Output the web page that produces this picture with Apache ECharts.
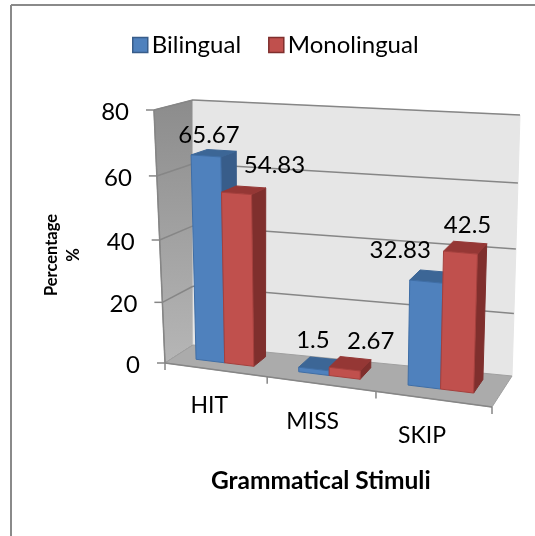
<!DOCTYPE html>
<html>
<head>
<meta charset="utf-8">
<style>
  html, body { margin: 0; padding: 0; background: #fff; }
  #main { width: 535px; height: 536px; }
</style>
<script src="https://cdn.jsdelivr.net/npm/echarts@6/dist/echarts.min.js"></script>
</head>
<body>
<div id="main"></div>
<script>
var categories = ['HIT', 'MISS', 'SKIP'];
var bilingual = [65.67, 1.5, 32.83];
var monolingual = [54.83, 2.67, 42.5];
var yTicks = [0, 20, 40, 60, 80];
var seriesNames = ['Bilingual', 'Monolingual'];

// pixel corners of the 3d box: f = front, b = back, l/r = left/right, d/t = floor/top
var BOX = {
	fld: [165, 363], frd: [492, 407], bld: [193, 345], brd: [512, 376],
	flt: [154, 110], frt: [501, 132], blt: [193, 100], brt: [520, 115]
};
var PLOT = 300;       // size of the hidden grid, only used to normalise api.coord
var BAR_W = 0.095;    // one bar, as a share of the floor width
var BAR_W0 = 0.35, BAR_W1 = 0.8;  // depth range of the bars
var FONT = 'Lato, "Open Sans", sans-serif';

var BLUE = { front: '#4f81bd', top: '#3c6696', side: '#385d8a', edge: '#3f6ea6' };
var RED = { front: '#c0504d', top: '#953735', side: '#7f2f2d', edge: '#a5403d' };

// label shift from the top of the bar front, per series and category
var labelShift = [
	[[3, -21], [-1, -29], [-26, -31]],
	[[38, -28], [26, -28], [7, -27]]
];
// category label shift from the tick position on the front floor edge
var catShift = [[-6, 36], [-8, 38], [-11, 37]];

function lerp(a, b, t) {
	return [a[0] + (b[0] - a[0]) * t, a[1] + (b[1] - a[1]) * t];
}
// foreshortening of the view
function warp(t, r) {
	return t / (t + (1 - t) * r);
}
// u along the categories, v up the value axis, w into the depth, all 0..1
function project(u, v, w) {
	var uu = warp(u, 1.1);
	var vv = warp(v, 1.057);
	var front = lerp(lerp(BOX.fld, BOX.frd, uu), lerp(BOX.flt, BOX.frt, uu), vv);
	var back = lerp(lerp(BOX.bld, BOX.brd, uu), lerp(BOX.blt, BOX.brt, uu), vv);
	return lerp(front, back, w);
}
function face(points, fill, stroke) {
	return {
		type: 'polygon',
		shape: { points: points },
		style: { fill: fill, stroke: stroke || fill, lineWidth: 1 }
	};
}
function line(a, b, color, width) {
	return {
		type: 'line',
		shape: { x1: a[0], y1: a[1], x2: b[0], y2: b[1] },
		style: { stroke: color, lineWidth: width || 1.5 }
	};
}
function label(text, p, size, align) {
	return {
		type: 'text',
		x: p[0], y: p[1],
		style: {
			text: text, fill: '#000', font: size + 'px ' + FONT,
			textAlign: align || 'center', textVerticalAlign: 'middle'
		}
	};
}

// walls, floor, gridlines, ticks and their labels
function renderFrame(params, api) {
	if (params.dataIndex > 0) {
		return;
	}
	var kids = [];
	var vOf = function (val) {
		return 1 - api.coord([0, val])[1] / PLOT;
	};
	kids.push({
		type: 'polygon',
		shape: { points: [BOX.flt, BOX.blt, BOX.bld, BOX.fld] },
		style: {
			fill: new echarts.graphic.LinearGradient(0, 0, 0, 1, [
				{ offset: 0, color: '#8c8c8c' }, { offset: 1, color: '#b6b6b6' }
			]),
			stroke: '#868686', lineWidth: 1
		}
	});
	kids.push(face([BOX.blt, BOX.brt, BOX.brd, BOX.bld], '#e6e6e6', '#e6e6e6'));
	kids.push(face([BOX.fld, BOX.bld, BOX.brd, BOX.frd], '#ababab', '#a0a0a0'));
	yTicks.forEach(function (t) {
		var v = vOf(t);
		var fl = project(0, v, 0);
		if (t > 0) {
			kids.push(line(fl, project(0, v, 1), '#868686'));
			kids.push(line(project(0, v, 1), project(1, v, 1), '#868686'));
		}
		kids.push(line(fl, [fl[0] - 8, fl[1]], '#868686'));
		kids.push(label(String(t), [fl[0] - 25, fl[1] + 2], 24, 'right'));
	});
	kids.push(line(project(0, 0, 0), project(0, 1, 0), '#868686'));
	kids.push(line(project(0, 0, 0), project(1, 0, 0), '#868686'));
	for (var i = 0; i <= categories.length; i++) {
		var p = project(i / categories.length, 0, 0);
		kids.push(line(p, [p[0], p[1] + 7], '#868686'));
	}
	categories.forEach(function (c, idx) {
		var x = api.coord([idx, 0])[0] / PLOT;
		var p = project(x, 0, 0);
		kids.push(label(c, [p[0] + catShift[idx][0], p[1] + catShift[idx][1]], 23));
	});
	return { type: 'group', children: kids };
}

function makeBarRender(seriesIndex, col) {
	return function (params, api) {
		var catIdx = api.value(0);
		var val = api.value(1);
		var pt = api.coord([catIdx, val]);
		var cx = pt[0] / PLOT;
		var v = 1 - pt[1] / PLOT;
		var u0 = cx + (seriesIndex - 1) * BAR_W;
		var u1 = u0 + BAR_W;
		var a = project(u0, 0, BAR_W0), b = project(u1, 0, BAR_W0);
		var c = project(u0, v, BAR_W0), d = project(u1, v, BAR_W0);
		var e = project(u0, v, BAR_W1), f = project(u1, v, BAR_W1);
		var g = project(u1, 0, BAR_W1);
		var topMid = lerp(c, d, 0.5);
		var shift = labelShift[seriesIndex][catIdx];
		return {
			type: 'group',
			children: [
				face([b, g, f, d], col.side),
				face([c, d, f, e], col.top),
				face([a, b, d, c], col.front, col.edge),
				label(String(val), [topMid[0] + shift[0], topMid[1] + shift[1]], 24)
			]
		};
	};
}
function rows(values) {
	return values.map(function (v, i) {
		return [i, v];
	});
}

var chart = echarts.init(document.getElementById('main'));
chart.setOption({
	animation: false,
	backgroundColor: '#fff',
	grid: { left: 0, top: 0, width: PLOT, height: PLOT },
	xAxis: { type: 'category', data: categories, show: false },
	yAxis: { type: 'value', min: 0, max: 80, interval: 20, show: false },
	legend: {
		data: [
			{ name: seriesNames[0], icon: 'rect', itemStyle: { color: BLUE.front, borderColor: BLUE.side, borderWidth: 1.5 } },
			{ name: seriesNames[1], icon: 'rect', itemStyle: { color: RED.front, borderColor: RED.side, borderWidth: 1.5 } }
		],
		left: 127, top: 28,
		itemWidth: 15, itemHeight: 15, itemGap: 27,
		textStyle: { fontFamily: FONT, fontSize: 24, color: '#000', padding: [0, 0, 0, -1] }
	},
	title: {
		text: 'Grammatical Stimuli',
		left: 211, top: 469,
		padding: 0,
		textStyle: { fontFamily: FONT, fontSize: 24.5, fontWeight: 'bold', color: '#000' }
	},
	graphic: [
		{ type: 'line', shape: { x1: 11, y1: 5, x2: 535, y2: 5 }, style: { stroke: '#8a8a8a', lineWidth: 2 } },
		{ type: 'line', shape: { x1: 11, y1: 5, x2: 11, y2: 536 }, style: { stroke: '#8a8a8a', lineWidth: 2 } },
		{
			type: 'text', x: 63, y: 255, rotation: Math.PI / 2,
			style: {
				text: 'Percentage\n%', fill: '#000', font: 'bold 16.5px ' + FONT,
				textAlign: 'center', textVerticalAlign: 'middle', lineHeight: 22
			}
		}
	],
	series: [
		{ type: 'custom', name: 'frame', silent: true, renderItem: renderFrame, data: [[0, 0]], z: 1, clip: false },
		{ type: 'custom', name: seriesNames[0], renderItem: makeBarRender(0, BLUE), data: rows(bilingual), z: 2, itemStyle: { color: BLUE.front } },
		{ type: 'custom', name: seriesNames[1], renderItem: makeBarRender(1, RED), data: rows(monolingual), z: 3, itemStyle: { color: RED.front } }
	]
});
</script>
</body>
</html>
